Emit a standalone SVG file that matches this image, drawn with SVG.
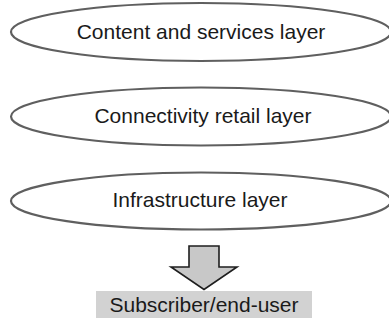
<svg xmlns="http://www.w3.org/2000/svg" width="389" height="324" viewBox="0 0 389 324">
  <style>
    .layer { fill: #ffffff; stroke: #5f5f5f; stroke-width: 2.2; }
    .label { font-family: "Liberation Sans", Arial, sans-serif; font-size: 21px; fill: #1a1a1a; text-anchor: middle; }
    .block-arrow { fill: #c8c8c8; stroke: #1e1e1e; stroke-width: 1.6; stroke-linejoin: miter; }
    .endpoint { fill: #d2d2d2; stroke: none; }
  </style>
  <rect width="389" height="324" fill="#ffffff"/>

  <g id="content-services-layer">
    <ellipse class="layer" cx="201" cy="32" rx="190" ry="29"/>
    <text class="label" x="201" y="38.5">Content and services layer</text>
  </g>

  <g id="connectivity-retail-layer">
    <ellipse class="layer" cx="201" cy="116.5" rx="190" ry="29"/>
    <text class="label" x="203" y="123">Connectivity retail layer</text>
  </g>

  <g id="infrastructure-layer">
    <ellipse class="layer" cx="201" cy="201" rx="190" ry="28.5"/>
    <text class="label" x="200" y="207">Infrastructure layer</text>
  </g>

  <g id="connectors">
    <polygon class="block-arrow" points="189,246 219,246 219,267 237,267 204,289.5 171,267 189,267"/>
  </g>

  <g id="subscriber">
    <rect class="endpoint" x="96" y="291" width="216" height="27"/>
    <text class="label" x="204" y="311.5">Subscriber/end-user</text>
  </g>
</svg>
